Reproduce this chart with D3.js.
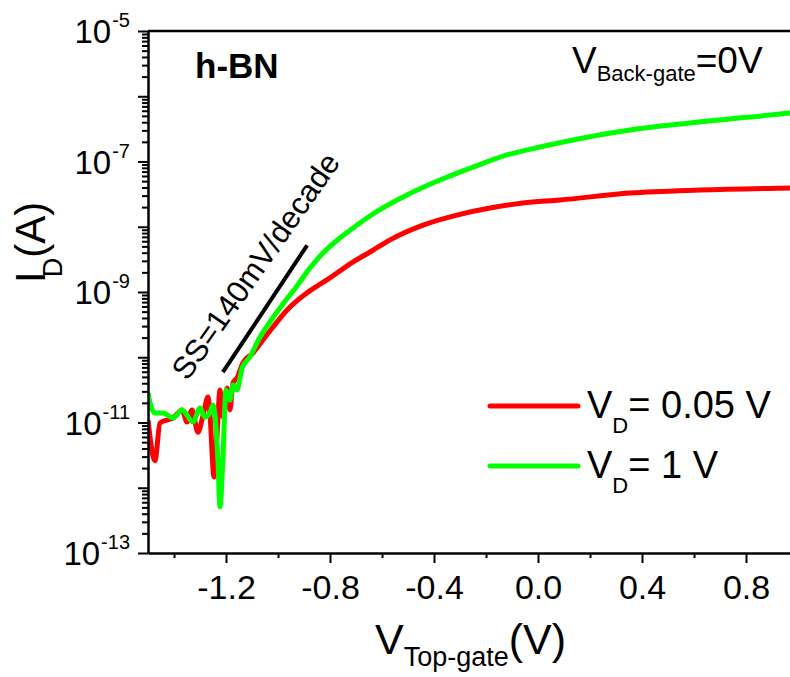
<!DOCTYPE html>
<html><head><meta charset="utf-8">
<script src="https://cdn.jsdelivr.net/npm/d3@7"></script>
<style>
html,body{margin:0;padding:0;background:#fff;}
svg{display:block;}
text{font-family:"Liberation Sans",Arial,sans-serif;fill:#000;}
</style></head>
<body>
<svg id="chart" width="790" height="677"></svg>
<script>
// ---- data ----
const vRed = [-1.500,-1.473,-1.454,-1.427,-1.404,-1.369,-1.350,-1.331,-1.308,-1.288,-1.269,-1.262,-1.246,-1.235,-1.223,-1.212,-1.196,-1.185,-1.173,-1.158,-1.135,-1.096,-1.058,-1.019,-0.965,-0.888,-0.812,-0.712,-0.646,-0.569,-0.442,-0.312,-0.185,-0.058,0.085,0.354,0.623,0.969,1.000];
const iRed = [1.09e-11,2.6e-12,9.8e-12,1.09e-11,1.17e-11,1.56e-11,1.02e-11,1.56e-11,7.1e-12,1.30e-11,2.46e-11,1.40e-11,1.46e-12,6.0e-12,3.15e-11,1.21e-11,3.38e-11,1.56e-11,4.03e-11,4.81e-11,8.2e-11,1.16e-10,1.84e-10,2.91e-10,5.3e-10,9.7e-10,1.53e-9,2.88e-9,4.1e-9,6.3e-9,1.06e-8,1.51e-8,1.94e-8,2.31e-8,2.57e-8,3.29e-8,3.66e-8,3.93e-8,3.95e-8];
const vGreen = [-1.500,-1.492,-1.473,-1.442,-1.404,-1.369,-1.327,-1.300,-1.281,-1.262,-1.250,-1.231,-1.223,-1.212,-1.200,-1.185,-1.173,-1.158,-1.138,-1.108,-1.069,-1.031,-0.981,-0.927,-0.877,-0.827,-0.762,-0.696,-0.635,-0.504,-0.377,-0.250,-0.119,0.008,0.135,0.354,0.585,0.969,1.000];
const iGreen = [2.83e-11,1.99e-11,1.40e-11,1.40e-11,1.17e-11,1.56e-11,1.02e-11,1.67e-11,1.21e-11,1.40e-11,1.85e-11,2.66e-12,5.1e-13,2.66e-12,3.15e-11,2.21e-11,3.76e-11,3.15e-11,6.84e-11,1.01e-10,2.04e-10,3.47e-10,6.55e-10,1.24e-9,2.33e-9,3.96e-9,6.73e-9,1.06e-8,1.57e-8,3.07e-8,5.2e-8,8.2e-8,1.26e-7,1.67e-7,2.14e-7,3.04e-7,3.89e-7,5.53e-7,5.7e-7];
const seriesNames = ["0.05 V", "1 V"];
const seriesColors = ["#ff0000", "#00ff00"];
const xMajorTicks = [-1.2, -0.8, -0.4, 0.0, 0.4, 0.8];
const xTickLabels = ["-1.2", "-0.8", "-0.4", "0.0", "0.4", "0.8"];
const xMinorTicks = [-1.4, -1.0, -0.6, -0.2, 0.2, 0.6, 1.0];
const yDecades = [-13, -12, -11, -10, -9, -8, -7, -6, -5];
const yLabelExps = [-13, -11, -9, -7, -5];
const ssV = [-1.212, -0.888];
const ssI = [5.9e-11, 5.2e-9];
const ssLabel = "SS=140mV/decade";
const ssLabelPos = [-1.348, 4.2e-11];

// ---- layout ----
const L = 148, R = 798, T = 31, B = 553;
const svg = d3.select("#chart");
const x = d3.scaleLinear().domain([-1.5, 1.0]).range([L, R]);
const y = d3.scaleLog().domain([1e-13, 1e-5]).range([B, T]);

svg.append("defs").append("clipPath").attr("id", "clip")
  .append("rect").attr("x", L).attr("y", T).attr("width", R - L).attr("height", B - T);

// curves
const line = d3.line().x(d => x(d[0])).y(d => y(d[1])).curve(d3.curveMonotoneX);
const series = [d3.zip(vRed, iRed), d3.zip(vGreen, iGreen)];
const g = svg.append("g").attr("clip-path", "url(#clip)");
series.forEach((s, i) => {
  g.append("path").datum(s).attr("d", line)
    .attr("fill", "none").attr("stroke", seriesColors[i])
    .attr("stroke-width", 5).attr("stroke-linejoin", "round");
});

// SS line
const straight = d3.line().x(d => x(d[0])).y(d => y(d[1]));
svg.append("path").datum(d3.zip(ssV, ssI)).attr("d", straight)
  .attr("fill", "none").attr("stroke", "#000").attr("stroke-width", 4);

// SS label
svg.append("text")
  .attr("transform", `translate(${x(ssLabelPos[0])},${y(ssLabelPos[1])}) rotate(-55)`)
  .attr("font-size", 31).text(ssLabel);

// x axis
const xAxisG = svg.append("g").attr("transform", `translate(0,${B})`);
xAxisG.call(d3.axisBottom(x).tickValues(xMajorTicks).tickSize(10).tickSizeOuter(0)
  .tickFormat((d, i) => xTickLabels[i]).tickPadding(12));
xAxisG.append("g").call(d3.axisBottom(x).tickValues(xMinorTicks).tickSize(5).tickFormat(""))
  .select(".domain").remove();
xAxisG.selectAll("line").attr("stroke-width", 2);
xAxisG.select(".domain").attr("stroke-width", 2.5);
xAxisG.selectAll(".tick text").attr("font-size", 34).attr("font-family", "Liberation Sans, Arial, sans-serif").attr("fill", "#000");

// y axis
const yMinor = [];
yDecades.slice(0, -1).forEach(e => { for (let k = 2; k <= 9; k++) yMinor.push(k * Math.pow(10, e)); });
const yAxisG = svg.append("g").attr("transform", `translate(${L},0)`);
yAxisG.call(d3.axisLeft(y).tickValues(yDecades.map(e => Math.pow(10, e))).tickSize(10).tickSizeOuter(0).tickFormat(""));
yAxisG.append("g").call(d3.axisLeft(y).tickValues(yMinor).tickSize(6).tickFormat(""))
  .select(".domain").remove();
yAxisG.selectAll("line").attr("stroke-width", 2);
yAxisG.select(".domain").attr("stroke-width", 2.5);

yLabelExps.forEach(e => {
  const yy = y(Math.pow(10, e));
  const t = svg.append("text").attr("x", 130).attr("y", yy + 12).attr("text-anchor", "end").attr("font-size", 33);
  t.append("tspan").text("10");
  t.append("tspan").attr("font-size", 20).attr("dx", 1).attr("dy", -16).text(String(e));
});

// top frame
svg.append("line").attr("x1", L).attr("x2", R).attr("y1", T).attr("y2", T)
  .attr("stroke", "#000").attr("stroke-width", 2.5);

// axis titles
const yt = svg.append("text").attr("transform", "translate(45,283) rotate(-90)").attr("font-size", 42);
yt.append("tspan").text("I");
yt.append("tspan").attr("font-size", 27).attr("dx", -6).attr("dy", 17).text("D");
yt.append("tspan").attr("dy", -17).text("(A)");

const xt = svg.append("text").attr("x", 375).attr("y", 654).attr("font-size", 43);
xt.append("tspan").text("V");
xt.append("tspan").attr("font-size", 27).attr("dy", 12).text("Top-gate");
xt.append("tspan").attr("dy", -12).text("(V)");

// annotations
svg.append("text").attr("x", 195).attr("y", 78).attr("font-size", 35).attr("font-weight", "bold").text("h-BN");
const bg = svg.append("text").attr("x", 572).attr("y", 73).attr("font-size", 37);
bg.append("tspan").text("V");
bg.append("tspan").attr("font-size", 22).attr("dy", 8).text("Back-gate");
bg.append("tspan").attr("dy", -8).text("=0V");

// legend
const legY = [406, 466];
series.forEach((s, i) => {
  svg.append("line").attr("x1", 490).attr("x2", 578).attr("y1", legY[i]).attr("y2", legY[i])
    .attr("stroke", seriesColors[i]).attr("stroke-width", 5).attr("stroke-linecap", "round");
  const t = svg.append("text").attr("x", 587).attr("y", legY[i] + 12).attr("font-size", 38);
  t.append("tspan").text("V");
  t.append("tspan").attr("font-size", 22).attr("dy", 15).text("D");
  t.append("tspan").attr("dy", -15).text("= " + seriesNames[i]);
});
</script>
</body></html>
